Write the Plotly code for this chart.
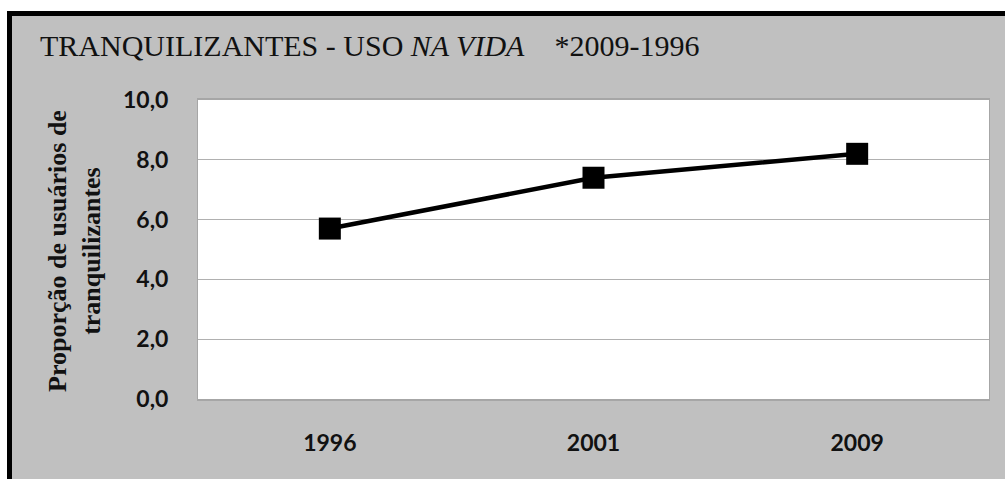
import plotly.graph_objects as go

# Lifetime use of tranquilizers, by survey year
years = ["1996", "2001", "2009"]
usage = [5.7, 7.4, 8.2]
y_ticks = [0, 2, 4, 6, 8, 10]

W, H = 1005, 479
ML, MR, MT, MB = 198, 16, 100, 80
PW, PH = W - ML - MR, H - MT - MB


def px_x(x):
    return (x - ML) / PW


def px_y(y):
    return (H - MB - y) / PH


fig = go.Figure()

fig.add_trace(go.Scatter(
    x=years,
    y=usage,
    mode="lines+markers",
    line=dict(color="black", width=4.5),
    marker=dict(symbol="square", size=22, color="black"),
    showlegend=False,
    hoverinfo="skip",
))

# White strips outside the chart frame (top and left of the page)
for x0, x1, y0, y1, col in [
    (-10, 1020, -10, 11, "white"),
    (-10, 7, -10, 500, "white"),
    (7, 1020, 11, 16, "black"),
    (7, 12, 11, 500, "black"),
]:
    fig.add_shape(
        type="rect", xref="paper", yref="paper", layer="above",
        x0=px_x(x0), x1=px_x(x1), y0=px_y(y0), y1=px_y(y1),
        fillcolor=col, line=dict(width=0),
    )

fig.add_annotation(
    xref="paper", yref="paper",
    x=px_x(38), y=px_y(46), xanchor="left", yanchor="middle",
    text="TRANQUILIZANTES - USO <i>NA VIDA</i>\u00a0\u00a0\u00a0\u00a0*2009-1996",
    showarrow=False,
    font=dict(family="Liberation Serif", size=30, color="#111111"),
)

fig.add_annotation(
    xref="paper", yref="paper",
    x=px_x(74), y=px_y(251), xanchor="center", yanchor="middle",
    text="Proporção de usuários de<br>tranquilizantes",
    textangle=-90,
    showarrow=False,
    font=dict(family="Liberation Serif", size=26, color="#111111", weight="bold"),
)

tick_font = dict(family="Lato", size=23, color="#111111", weight="bold")

fig.update_xaxes(
    type="category",
    range=[-0.5, 2.5],
    showgrid=False,
    showline=True, linecolor="#A6A6A6", linewidth=2, mirror=True,
    ticks="", tickfont=tick_font, ticklabelstandoff=22,
)
fig.update_yaxes(
    range=[0, 10],
    tickvals=y_ticks,
    tickformat=".1f",
    showgrid=True, gridcolor="#B0B0B0", gridwidth=1,
    showline=True, linecolor="#A6A6A6", linewidth=1, mirror=True,
    zeroline=False,
    ticks="", tickfont=tick_font, ticklabelstandoff=24,
)

fig.update_layout(
    width=W, height=H,
    margin=dict(l=ML, r=MR, t=MT, b=MB, pad=0),
    paper_bgcolor="#C0C0C0",
    plot_bgcolor="white",
    separators=",.",
)

fig.write_html("out.html")
